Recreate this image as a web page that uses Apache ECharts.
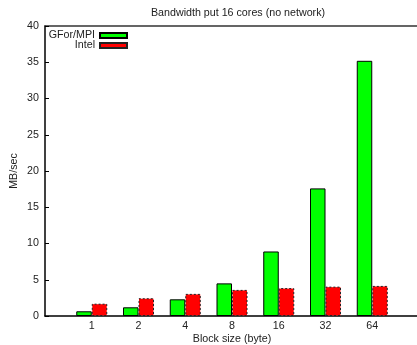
<!DOCTYPE html>
<html>
<head>
<meta charset="utf-8">
<script src="https://cdn.jsdelivr.net/npm/echarts@6/dist/echarts.min.js"></script>
<style>
  html, body { margin: 0; padding: 0; background: #fff; }
  #chart { width: 417px; height: 345px; }
</style>
</head>
<body>
<div id="chart"></div>
<script>
// Block sizes in bytes (x categories)
const blockSizes = ['1', '2', '4', '8', '16', '32', '64'];
// Bandwidth in MB/sec for each block size
const gforMpi = [0.65, 1.2, 2.3, 4.5, 8.9, 17.6, 35.2];
const intel = [1.7, 2.45, 3.05, 3.6, 3.85, 4.05, 4.15];
const yTicks = [0, 5, 10, 15, 20, 25, 30, 35, 40];

const FONT = 'Liberation Sans, Arial, Helvetica, sans-serif';
const FS = 10.7;
const chart = echarts.init(document.getElementById('chart'), null, { renderer: 'canvas' });

// Each block size sits at slot 1..7 on a 0..8 axis, leaving a full slot free on each side.
const toPoints = vals => vals.map((v, i) => [i + 1, v]);

const legendText = { fontFamily: FONT, fontSize: FS, color: '#222' };

chart.setOption({
  animation: false,
  backgroundColor: '#fff',
  title: {
    text: 'Bandwidth put 16 cores (no network)',
    left: 233, top: 3, textAlign: 'center',
    textStyle: { fontFamily: FONT, fontSize: FS, fontWeight: 'normal', color: '#222' }
  },
  legend: [
    {
      data: ['GFor/MPI'], orient: 'vertical', align: 'right', icon: 'rect',
      right: 289, top: 30, itemWidth: 27, itemHeight: 5,
      textStyle: legendText, padding: 0
    },
    {
      data: ['Intel'], orient: 'vertical', align: 'right', icon: 'rect',
      right: 289, top: 40, itemWidth: 27, itemHeight: 5,
      textStyle: legendText, padding: 0
    }
  ],
  grid: { left: 45, top: 26, right: -2, bottom: 29, containLabel: false, outerBoundsMode: 'none' },
  xAxis: [
    {
      type: 'value', min: 0, max: 8, interval: 1,
      name: 'Block size (byte)', nameLocation: 'middle', nameGap: 18, nameMoveOverlap: false,
      nameTextStyle: { fontFamily: FONT, fontSize: FS, color: '#222' },
      axisLine: { show: true, lineStyle: { color: '#000', width: 1.5 } },
      axisTick: { show: false },
      splitLine: { show: false },
      axisLabel: {
        fontFamily: FONT, fontSize: FS, color: '#222', margin: 5,
        formatter: v => (v >= 1 && v <= blockSizes.length) ? blockSizes[v - 1] : ''
      }
    },
    {
      type: 'value', min: 0, max: 8, position: 'top',
      axisLine: { show: true, onZero: false, lineStyle: { color: '#333', width: 1.5 } },
      axisTick: { show: false }, axisLabel: { show: false }, splitLine: { show: false }
    }
  ],
  yAxis: {
    type: 'value', min: yTicks[0], max: yTicks[yTicks.length - 1], interval: 5,
    name: 'MB/sec', nameLocation: 'middle', nameGap: 25.5, nameRotate: 90, nameMoveOverlap: false,
    nameTextStyle: { fontFamily: FONT, fontSize: FS, color: '#222' },
    axisLine: { show: true, lineStyle: { color: '#000', width: 1.5 } },
    axisTick: { show: true, inside: true, length: 4, lineStyle: { color: '#000' } },
    splitLine: { show: false },
    axisLabel: { fontFamily: FONT, fontSize: FS, color: '#222', margin: 6 }
  },
  series: [
    {
      name: 'GFor/MPI', type: 'bar', data: toPoints(gforMpi),
      barWidth: 15.5, barGap: '0%',
      itemStyle: { color: '#00ff00', borderColor: '#000', borderWidth: 1 }
    },
    {
      name: 'Intel', type: 'bar', data: toPoints(intel),
      barWidth: 15.5, barGap: '0%',
      itemStyle: { color: '#ff0000', borderColor: '#222', borderWidth: 1, borderType: [2, 2] }
    }
  ]
});
</script>
</body>
</html>
